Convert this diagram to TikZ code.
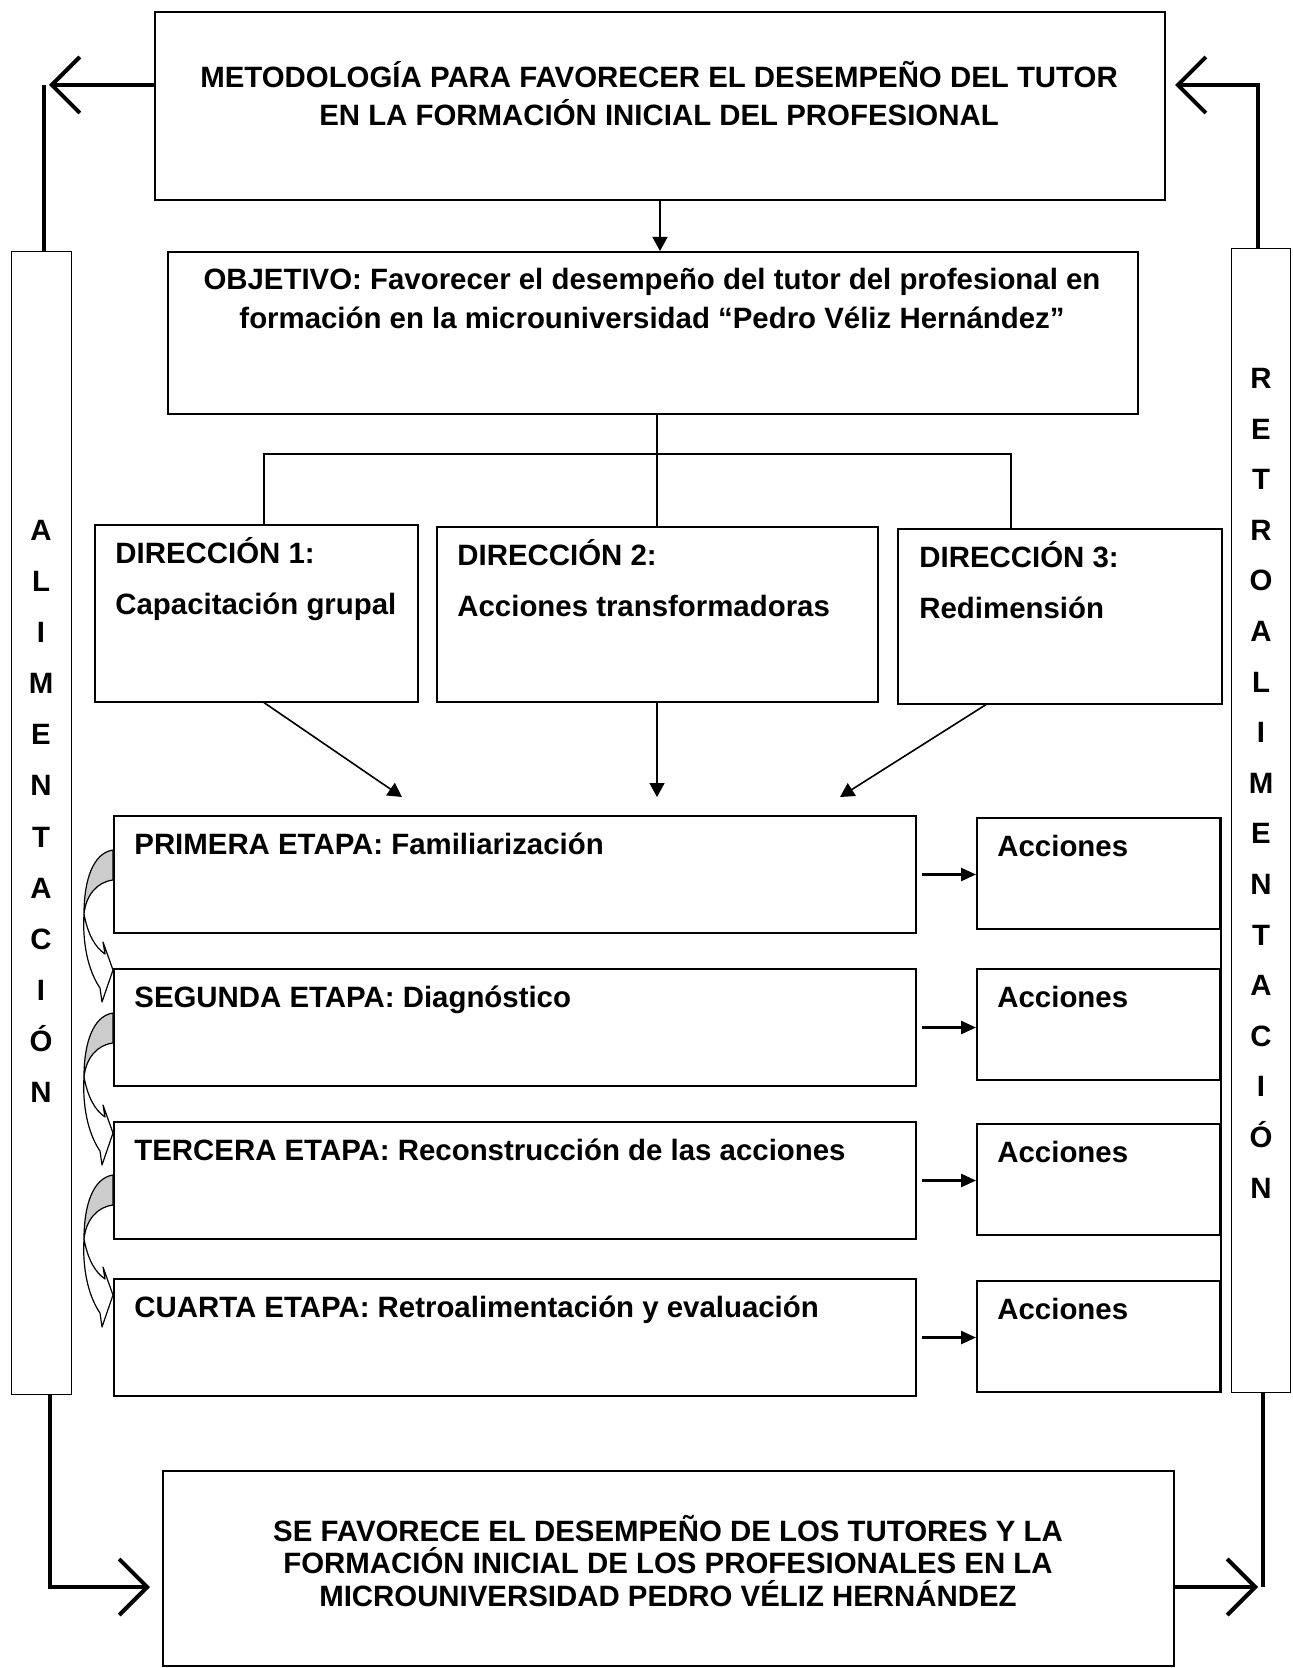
\documentclass[tikz,border=0pt]{standalone}
\usepackage{fontspec}
\setmainfont{Liberation Sans}
\usetikzlibrary{arrows.meta,calc}

\tikzset{
  caja/.style={draw, line width=1pt, anchor=north west, inner sep=0pt},
  barra/.style={draw, line width=0.6pt, anchor=north west, inner sep=0pt},
  txt/.style={anchor=base west, inner sep=0pt},
  letra/.style={anchor=base, inner sep=0pt},
  conn/.style={line width=0.8pt},
  flecha/.style={line width=0.8pt, -{Triangle[length=7pt,width=7.5pt]}},
  flechah/.style={line width=1.3pt, -{Triangle[length=7.5pt,width=6.5pt]}},
  lazo/.style={line width=2pt},
  flechalazo/.style={line width=2pt, -{Straight Barb[length=14pt,width=28pt]}},
  giro/.style={line width=0.6pt, line join=round},
}

\begin{document}
\begin{tikzpicture}[x=0.5pt, y=-0.5pt, font=\fontsize{14.7}{19}\selectfont\bfseries]
  \useasboundingbox (0,0) rectangle (1292,1668);

  %% main boxes
  \node[caja, minimum width=505pt, minimum height=94pt] (metodo) at (154,11) {};
  \node[caja, line width=0.8pt, minimum width=485pt, minimum height=81pt] (objetivo) at (167,251) {};
  \node[caja, line width=0.8pt, minimum width=161.5pt, minimum height=88.5pt] (dir1) at (94,524) {};
  \node[caja, line width=0.8pt, minimum width=220.5pt, minimum height=87.5pt] (dir2) at (436,526) {};
  \node[caja, line width=0.8pt, minimum width=162pt, minimum height=87.5pt] (dir3) at (897,528) {};
  \node[caja, line width=0.8pt, minimum width=505.5pt, minimum height=97.5pt] (resultado) at (162,1470) {};

  %% side bars
  \node[barra, minimum width=30pt, minimum height=571.5pt] (alim) at (11,251) {};
  \node[barra, minimum width=29.5pt, minimum height=572pt] (retro) at (1231,248) {};

  %% stages and actions
  \foreach \i/\yy in {1/815,2/968,3/1121,4/1278}
    \node[caja, minimum width=401pt, minimum height=58.5pt] (etapa\i) at (113,\yy) {};
  \foreach \i/\yy in {1/817,2/968,3/1123,4/1280}
    \node[caja, minimum width=121.5pt, minimum height=55.5pt] (acc\i) at (976,\yy) {};

  %% texts (base = last line)
  \node[anchor=base, align=center, inner sep=0pt] (titulo) at (659,125.4)
    {METODOLOGÍA PARA FAVORECER EL DESEMPEÑO DEL TUTOR\\EN LA FORMACIÓN INICIAL DEL PROFESIONAL};
  \node[anchor=base, align=center, inner sep=0pt, font=\fontsize{14.7}{19.5}\selectfont\bfseries] (objtxt) at (652,328.4)
    {OBJETIVO: Favorecer el desempeño del tutor del profesional en\\formación en la microuniversidad “Pedro Véliz Hernández”};
  \node[txt, align=left, font=\fontsize{14.7}{25.5}\selectfont\bfseries] (dtxt1) at ($(dir1.north west)+(21,90.5)$)
    {DIRECCIÓN 1:\\Capacitación grupal};
  \node[txt, align=left, font=\fontsize{14.7}{25.5}\selectfont\bfseries] (dtxt2) at ($(dir2.north west)+(21,90.5)$)
    {DIRECCIÓN 2:\\Acciones transformadoras};
  \node[txt, align=left, font=\fontsize{14.7}{25.5}\selectfont\bfseries] (dtxt3) at ($(dir3.north west)+(22,90.5)$)
    {DIRECCIÓN 3:\\Redimensión};
  \foreach \i/\t in {1/PRIMERA ETAPA: Familiarización,2/SEGUNDA ETAPA: Diagnóstico,
                     3/TERCERA ETAPA: Reconstrucción de las acciones,4/CUARTA ETAPA: Retroalimentación y evaluación}
    \node[txt] (etxt\i) at ($(etapa\i.north west)+(21,39.5)$) {\t};
  \foreach \i in {1,...,4}
    \node[txt] (atxt\i) at ($(acc\i.north west)+(21,39.5)$) {Acciones};
  \node[anchor=base, align=center, inner sep=0pt, font=\fontsize{14.7}{16.25}\selectfont\bfseries] (restxt) at (668,1606.4)
    {SE FAVORECE EL DESEMPEÑO DE LOS TUTORES Y LA\\FORMACIÓN INICIAL DE LOS PROFESIONALES EN LA\\MICROUNIVERSIDAD PEDRO VÉLIZ HERNÁNDEZ};

  %% vertical words
  \foreach [count=\i] \l in {A,L,I,M,E,N,T,A,C,I,Ó,N}
    \node[letra] (la\i) at (41,{540.4+51.1*(\i-1)}) {\l};
  \foreach [count=\i] \l in {R,E,T,R,O,A,L,I,M,E,N,T,A,C,I,Ó,N}
    \node[letra] (lr\i) at (1261,{388.4+50.6*(\i-1)}) {\l};

  %% objective to directions
  \draw[flecha] (metodo.south) -- (metodo.south |- objetivo.north);
  \coordinate (bus) at (657,454);
  \draw[conn] (objetivo.south -| bus) -- (dir2.north -| bus);
  \draw[conn] ($(dir1.north west)+(170,0)$) |- (bus) -| ($(dir3.north west)+(114,0)$);

  %% directions to stages
  \coordinate (p1) at (402,797);
  \coordinate (p2) at (657,797);
  \coordinate (p3) at (840,797);
  \draw[flecha] ($(dir1.south west)+(170,0)$) -- (p1);
  \draw[flecha] (dir2.south -| bus) -- (p2);
  \draw[flecha] ($(dir3.south west)+(89,0)$) -- (p3);

  %% stages to actions
  \foreach \i in {1,...,4}
    \draw[flechah] ($(etapa\i.east)+(5,0)$) -- (etapa\i.east -| acc\i.west);
  \draw[conn] (acc1.north east) -- (acc4.south east);

  %% curved arrows between stages
  \foreach \yy in {850,1013,1175} {
    \begin{scope}[shift={(113,\yy)}]
      \filldraw[giro, fill=gray!40] (0,0) .. controls (-20,3) and (-29,30) .. (-29,64)
        .. controls (-27,45) and (-16,32) .. (0,30) -- cycle;
      \filldraw[giro, fill=white] (-29,64) .. controls (-31,100) and (-22,125) .. (-13,138)
        -- (-11,152) -- (0,120) -- (-10,92) -- (-8,104)
        .. controls (-18,97) and (-25,85) .. (-29,64) -- cycle;
    \end{scope}
  }

  %% feedback loops
  \coordinate (aiz) at (44,85);
  \coordinate (ader) at (1258,85);
  \coordinate (biz) at (50,1587);
  \coordinate (bder) at (1263,1587);
  \draw[lazo] (alim.north -| aiz) -- (aiz);
  \draw[flechalazo] (metodo.west |- aiz) -- ($(aiz)+(5,0)$);
  \draw[flechalazo] (retro.north -| ader) -- (ader) -- ($(metodo.east |- ader)+(9,0)$);
  \draw[flechalazo] (alim.south -| biz) -- (biz) -- ($(resultado.west |- biz)+(-12,0)$);
  \draw[lazo] (retro.south -| bder) -- (bder);
  \draw[flechalazo] (resultado.east |- bder) -- ($(bder)+(-5,0)$);
\end{tikzpicture}
\end{document}
